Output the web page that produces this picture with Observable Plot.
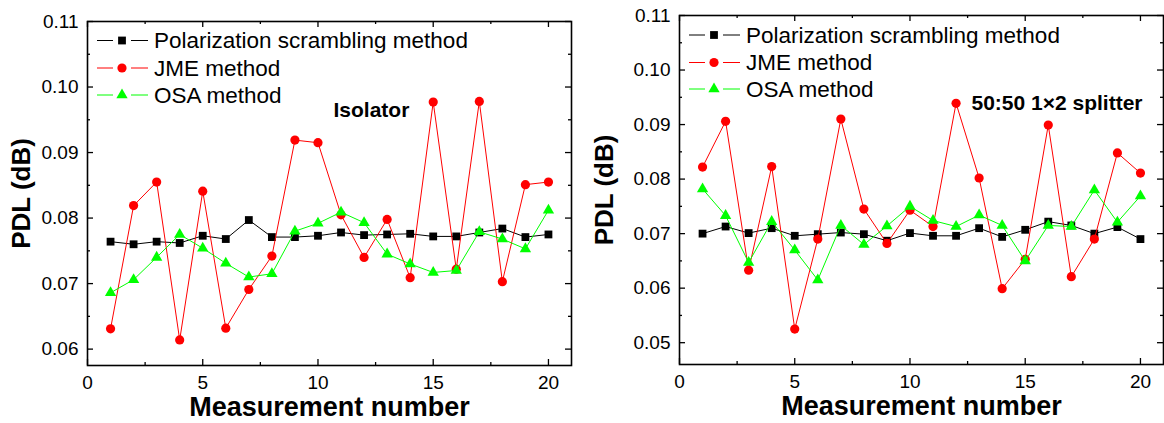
<!DOCTYPE html>
<html><head><meta charset="utf-8">
<script src="https://cdn.jsdelivr.net/npm/d3@7"></script>
<script src="https://cdn.jsdelivr.net/npm/@observablehq/plot@0.6"></script>
<style>
body{margin:0;background:#fff;}
#wrap{display:flex;width:1164px;height:423px;overflow:hidden;}
.panel{position:relative;width:582px;height:423px;}
svg{font-family:"Liberation Sans",Arial,sans-serif;overflow:visible;}
</style></head><body><div id="wrap"><div class="panel" id="p1"></div><div class="panel" id="p2"></div></div>
<script>
const measurement = [1,2,3,4,5,6,7,8,9,10,11,12,13,14,15,16,17,18,19,20];
const seriesNames = ["Polarization scrambling method", "JME method", "OSA method"];
const seriesColors = ["#000000", "#ff0000", "#00ff00"];
const seriesSymbols = ["square", "circle", "triangle"];

const isoScrambling = [0.0764,0.0760,0.0764,0.0762,0.0773,0.0768,0.0797,0.0771,0.0771,0.0773,0.0778,0.0774,0.0775,0.0776,0.0772,0.0772,0.0778,0.0784,0.0771,0.0775];
const isoJME = [0.0631,0.0819,0.0855,0.0614,0.0841,0.0632,0.0691,0.0742,0.0919,0.0915,0.0805,0.0740,0.0798,0.0709,0.0977,0.0722,0.0978,0.0703,0.0851,0.0855];
const isoOSA = [0.0686,0.0706,0.0740,0.0775,0.0754,0.0731,0.0710,0.0715,0.0780,0.0792,0.0809,0.0793,0.0745,0.0730,0.0717,0.0720,0.0779,0.0768,0.0753,0.0812];

const splScrambling = [0.0700,0.0713,0.0701,0.0710,0.0696,0.0699,0.0702,0.0699,0.0687,0.0701,0.0696,0.0696,0.0710,0.0694,0.0707,0.0722,0.0715,0.0700,0.0712,0.0690];
const splJME = [0.0822,0.0906,0.0633,0.0823,0.0525,0.0690,0.0910,0.0745,0.0682,0.0743,0.0713,0.0939,0.0802,0.0599,0.0653,0.0899,0.0621,0.0690,0.0848,0.0811];
const splOSA = [0.0782,0.0733,0.0647,0.0722,0.0670,0.0615,0.0715,0.0680,0.0714,0.0750,0.0724,0.0713,0.0734,0.0715,0.0650,0.0715,0.0713,0.0780,0.0721,0.0769];

const xMajor = [0,5,10,15,20];
const xMinor = [2.5,7.5,12.5,17.5];
const yMajorIso = [0.06,0.07,0.08,0.09,0.10,0.11];
const yMinorIso = [0.065,0.075,0.085,0.095,0.105];
const yMajorSpl = [0.05,0.06,0.07,0.08,0.09,0.10,0.11];
const yMinorSpl = [0.055,0.065,0.075,0.085,0.095,0.105];

const xTitle = "Measurement number";
const yTitle = "PDL (dB)";

function panel(el, cfg) {
  const W = 582, H = 423;
  const {ml, mr, mt, mb} = cfg;
  const fw = W - ml - mr, fh = H - mt - mb;
  const sizes = [4.4, 4.6, 4.2];
  const marks = [];
  // ticks (inside, mirrored)
  const tk = {stroke: "#000", strokeWidth: 1.3};
  marks.push(Plot.tickY(cfg.yMajor, {y: d => d, insetRight: fw - 6, ...tk}));
  marks.push(Plot.tickY(cfg.yMajor, {y: d => d, insetLeft: fw - 6, ...tk}));
  marks.push(Plot.tickY(cfg.yMinor, {y: d => d, insetRight: fw - 3, ...tk}));
  marks.push(Plot.tickY(cfg.yMinor, {y: d => d, insetLeft: fw - 3, ...tk}));
  marks.push(Plot.tickX(xMajor, {x: d => d, insetTop: fh - 6, ...tk}));
  marks.push(Plot.tickX(xMajor, {x: d => d, insetBottom: fh - 6, ...tk}));
  marks.push(Plot.tickX(xMinor, {x: d => d, insetTop: fh - 3, ...tk}));
  marks.push(Plot.tickX(xMinor, {x: d => d, insetBottom: fh - 3, ...tk}));
  marks.push(Plot.axisY(cfg.yMajor, {tickSize: 0, tickPadding: 9, tickFormat: d => d.toFixed(2), fontSize: 19, fill: "#000", label: null}));
  marks.push(Plot.axisX(xMajor, {tickSize: 0, tickPadding: 10, tickFormat: d => String(d), fontSize: 19, fill: "#000", label: null}));
  cfg.series.forEach((vals, s) => {
    const rows = vals.map((v, i) => ({x: measurement[i], y: v}));
    marks.push(Plot.line(rows, {x: "x", y: "y", stroke: seriesColors[s], strokeWidth: 1}));
    marks.push(Plot.dot(rows, {x: "x", y: "y", symbol: seriesSymbols[s], r: sizes[s], fill: seriesColors[s], stroke: "none"}));
  });
  marks.push(Plot.frame({stroke: "#000", strokeWidth: 1.6}));
  marks.push(Plot.text([xTitle], {frameAnchor: "bottom", dy: cfg.xTitleDy, lineAnchor: "middle", textAnchor: "middle", fontSize: 27, fontWeight: "bold", fill: "#000"}));
  marks.push(Plot.text([yTitle], {frameAnchor: "left", dx: cfg.yTitleDx, lineAnchor: "middle", textAnchor: "middle", rotate: -90, fontSize: 26, fontWeight: "bold", fill: "#000"}));
  marks.push(Plot.text([cfg.note], {frameAnchor: "top-left", dx: cfg.noteDx, dy: cfg.noteDy, lineAnchor: "middle", textAnchor: "start", fontSize: 21, fontWeight: "bold", fill: "#000"}));

  const plot = Plot.plot({
    width: W, height: H,
    marginLeft: ml, marginRight: mr, marginTop: mt, marginBottom: mb,
    style: {fontFamily: '"Liberation Sans", Arial, sans-serif', background: "#fff", overflow: "visible"},
    x: {domain: [0, 21], label: null},
    y: {domain: cfg.yDomain, label: null},
    marks
  });
  // legend overlay
  const svg = d3.select(plot);
  const lg = svg.append("g").attr("transform", `translate(${ml},${mt})`);
  seriesNames.forEach((name, i) => {
    const y = cfg.legY[i];
    const g = lg.append("g");
    g.append("line").attr("x1", 10).attr("x2", 26).attr("y1", y).attr("y2", y).attr("stroke", seriesColors[i]).attr("stroke-width", 1);
    g.append("line").attr("x1", 44).attr("x2", 61).attr("y1", y).attr("y2", y).attr("stroke", seriesColors[i]).attr("stroke-width", 1);
    const symType = [d3.symbolSquare, d3.symbolCircle, d3.symbolTriangle][i];
    g.append("path").attr("d", d3.symbol(symType, Math.PI * sizes[i] * sizes[i])()).attr("transform", `translate(35,${y})`).attr("fill", seriesColors[i]);
    g.append("text").attr("x", 67).attr("y", y).attr("dy", "0.35em").attr("text-anchor", "start").attr("font-size", 22.5).attr("fill", "#000").text(name);
  });
  el.appendChild(plot);
}

panel(document.getElementById("p1"), {
  ml: 87, mr: 11, mt: 21, mb: 58,
  yDomain: [0.0575, 0.11], yMajor: yMajorIso, yMinor: yMinorIso,
  series: [isoScrambling, isoJME, isoOSA],
  note: "Isolator", noteDx: 246, noteDy: 89,
  xTitleDy: 42, yTitleDx: -66, legY: [19.5, 47, 74]
});
panel(document.getElementById("p2"), {
  ml: 97, mr: 1, mt: 15, mb: 59,
  yDomain: [0.046, 0.11], yMajor: yMajorSpl, yMinor: yMinorSpl,
  series: [splScrambling, splJME, splOSA],
  note: "50:50 1×2 splitter", noteDx: 292, noteDy: 88,
  xTitleDy: 42, yTitleDx: -75, legY: [20, 47.5, 74]
});
</script></body></html>
